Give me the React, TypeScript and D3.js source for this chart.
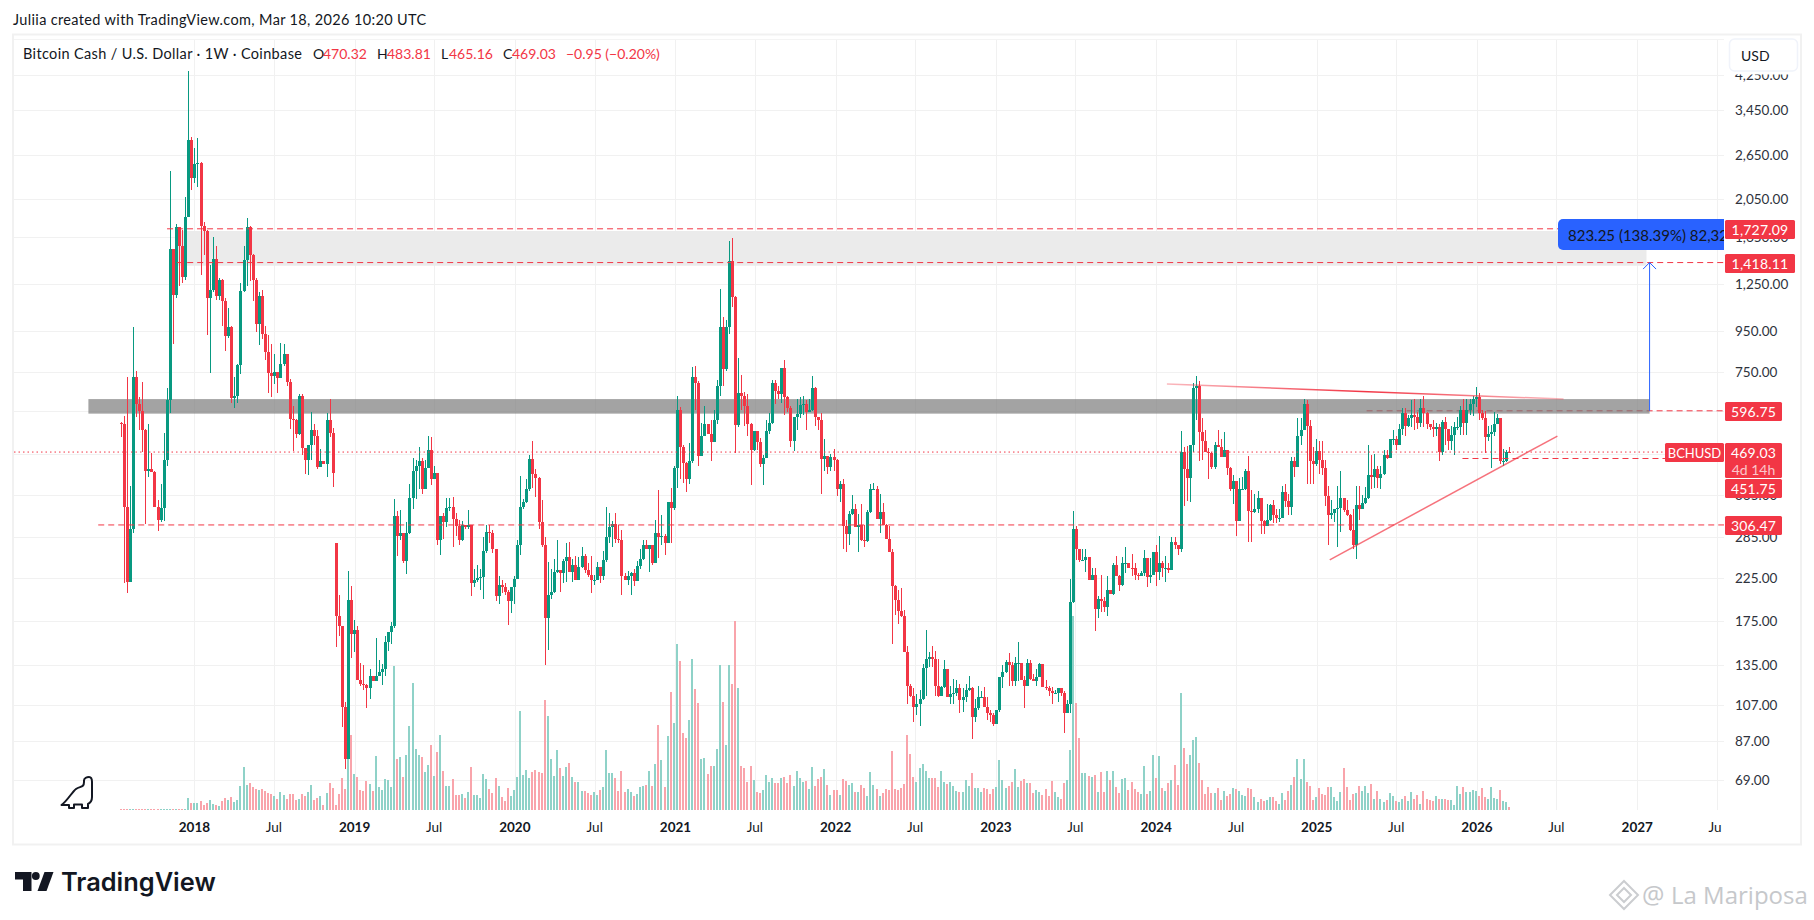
import * as d3 from 'd3'
import React from 'react'

// weekly BCHUSD. open = previous close unless listed in gapOpens
const closes = [
    554, 340, 220, 300, 728, 622, 597, 535, 419, 424,
    417, 340, 315, 338, 449, 634, 1537, 1175, 1746, 1566,
    1305, 1850, 2900, 2330, 2520, 2535, 1755, 1705, 1150, 1210,
    1450, 1170, 1280, 1135, 925, 975, 642, 652, 780, 1200,
    1440, 1746, 1478, 1280, 990, 1170, 935, 843, 745, 730,
    750, 722, 785, 832, 707, 570, 567, 522, 652, 480,
    449, 490, 532, 515, 431, 444, 437, 566, 525, 414,
    180, 170, 106, 78, 198, 162, 166, 124, 121, 120.5,
    118, 127, 123, 127, 130, 132, 155, 164, 170, 322,
    288, 292, 248, 292, 358, 419, 433, 444, 379, 428,
    476, 400, 414, 281, 322, 311, 338, 340, 318, 305,
    281, 307, 302, 307, 218, 222, 225, 226, 263, 294,
    292, 266, 202, 216, 213, 207, 196, 213, 223, 272,
    340, 350, 379, 451, 412, 403, 311, 272, 178, 203,
    207, 233, 236, 231, 248, 254, 233, 242, 222, 240,
    255, 236, 229, 222, 222, 240, 227, 250, 285, 302,
    309, 283, 280, 227, 222, 227, 231, 221, 241, 251,
    272, 267, 272, 246, 292, 285, 287, 275, 350, 338,
    427, 600, 482, 440, 400, 446, 725, 700, 459, 515,
    554, 522, 496, 564, 690, 975, 760, 975, 1430, 1160,
    550, 663, 652, 612, 554, 476, 529, 496, 437, 453,
    529, 557, 703, 670, 657, 768, 648, 607, 501, 574,
    587, 616, 620, 594, 600, 680, 574, 567, 451, 459,
    431, 457, 447, 377, 390, 304, 290, 326, 336, 302,
    307, 281, 279, 330, 377, 379, 318, 330, 307, 283,
    261, 214, 198, 185, 180, 146, 120, 113, 106, 108,
    111, 133, 140, 142, 140, 120, 113, 119, 132, 112,
    114, 115, 118, 110, 112, 117, 118, 100, 105, 112,
    112, 106, 102, 101, 96, 104, 126, 130, 138, 135,
    123, 137, 137, 124, 120, 137, 125, 123, 126, 136,
    119, 118, 116, 115, 115, 118, 115, 102, 108, 195,
    300, 267, 250, 250, 254, 222, 229, 188, 199, 196,
    190, 210, 205, 243, 228, 216, 245, 246, 239, 238,
    229, 227, 231, 253, 226, 229, 261, 233, 246, 239,
    239, 236, 278, 272, 267, 470, 424, 403, 488, 680,
    690, 526, 501, 468, 467, 431, 488, 484, 457, 476,
    427, 379, 395, 313, 379, 379, 419, 332, 330, 336,
    358, 313, 305, 316, 344, 325, 320, 320, 371, 352,
    340, 444, 431, 515, 535, 622, 547, 444, 437, 473,
    449, 427, 362, 325, 329, 336, 338, 358, 334, 325,
    298, 272, 344, 336, 348, 358, 410, 406, 424, 403,
    412, 461, 453, 505, 505, 490, 538, 590, 545, 571,
    583, 577, 555, 605, 590, 554, 542, 538, 542, 470,
    560, 538, 501, 518, 542, 542, 600, 557, 600, 622,
    640, 648, 590, 571, 512, 520, 526, 554, 571, 444,
    444, 470, 469.03,
]
const highs = [
    560, 580, 728, 384, 975, 754, 648, 707, 538, 552,
    467, 419, 354, 390, 523, 682, 2420, 1537, 1780, 1746,
    1720, 2075, 4350, 2950, 2770, 2930, 2550, 1798, 1715, 1395,
    1650, 1560, 1295, 1290, 1150, 1085, 980, 725, 785, 1260,
    1565, 1840, 1755, 1495, 1295, 1196, 1210, 980, 930, 880,
    832, 750, 888, 880, 832, 720, 615, 570, 660, 660,
    480, 490, 594, 552, 532, 478, 444, 590, 640, 540,
    276, 204, 168, 109, 234, 214, 176, 170, 137, 135,
    121, 132, 127, 158, 139, 136, 160, 164, 174, 356,
    332, 335, 292, 311, 389, 453, 449, 484, 453, 449,
    516, 512, 433, 414, 322, 329, 358, 358, 360, 329,
    316, 314, 307, 335, 307, 237, 243, 237, 286, 307,
    307, 298, 267, 228, 222, 218, 210, 213, 228, 280,
    407, 356, 400, 460, 499, 426, 405, 354, 286, 247,
    237, 251, 281, 236, 251, 276, 278, 251, 256, 254,
    270, 258, 245, 256, 229, 247, 240, 263, 340, 329,
    313, 329, 307, 298, 231, 234, 233, 237, 248, 267,
    280, 280, 273, 272, 315, 375, 325, 290, 350, 381,
    433, 652, 610, 490, 442, 494, 772, 775, 712, 556,
    612, 554, 564, 598, 714, 1215, 1030, 1015, 1610, 1640,
    1170, 810, 735, 667, 660, 556, 529, 529, 510, 460,
    564, 590, 714, 714, 690, 768, 805, 652, 612, 577,
    640, 648, 652, 636, 640, 730, 685, 577, 590, 505,
    459, 465, 478, 451, 395, 400, 316, 332, 364, 346,
    326, 346, 307, 334, 389, 392, 384, 368, 348, 309,
    304, 267, 216, 210, 212, 187, 151, 121, 118, 114,
    117, 136, 166, 146, 151, 147, 140, 120, 139, 129,
    120, 125, 124, 121, 118, 121, 127, 119, 111, 120,
    116, 119, 112, 104, 102, 104, 126, 135, 139, 145,
    138, 142, 155, 137, 127, 140, 139, 128, 132, 137,
    136, 124, 120, 119, 117, 118, 118, 116, 110, 223,
    332, 304, 267, 267, 267, 254, 239, 239, 202, 229,
    201, 227, 210, 246, 256, 229, 254, 270, 246, 258,
    246, 231, 234, 264, 253, 253, 261, 272, 288, 248,
    256, 245, 285, 285, 273, 530, 484, 486, 486, 700,
    730, 712, 571, 532, 480, 470, 496, 532, 505, 526,
    476, 431, 410, 397, 403, 405, 424, 459, 375, 367,
    373, 358, 316, 346, 346, 354, 336, 336, 385, 389,
    367, 457, 457, 571, 571, 640, 636, 564, 484, 505,
    501, 501, 447, 385, 354, 336, 385, 421, 358, 354,
    326, 336, 385, 385, 364, 383, 488, 460, 465, 433,
    433, 476, 476, 505, 535, 516, 552, 605, 605, 583,
    636, 640, 594, 640, 652, 594, 552, 567, 555, 552,
    564, 577, 538, 545, 560, 574, 612, 640, 640, 640,
    652, 685, 663, 600, 597, 545, 549, 594, 587, 571,
    478, 476, 483.81,
]
const lows = [
    511, 218, 206, 220, 292, 577, 535, 470, 309, 405,
    417, 340, 295, 311, 313, 432, 590, 882, 1150, 1240,
    1255, 1280, 1850, 2160, 2260, 2200, 1320, 1485, 930, 745,
    1196, 1140, 1140, 980, 848, 915, 625, 605, 625, 740,
    1196, 1240, 1275, 1135, 947, 875, 905, 805, 663, 648,
    698, 663, 722, 775, 690, 537, 473, 508, 518, 460,
    412, 410, 449, 490, 424, 432, 437, 406, 512, 383,
    150, 160, 94, 73.5, 78, 141, 146, 124, 120, 117,
    105, 111, 123, 123, 127, 120.5, 127, 147, 153, 168,
    255, 281, 245, 230, 290, 337, 356, 379, 368, 377,
    428, 386, 400, 272, 257, 283, 302, 332, 270, 288,
    272, 279, 300, 300, 202, 213, 220, 209, 199, 260,
    276, 260, 196, 193, 206, 203, 171, 183, 193, 261,
    257, 336, 348, 373, 381, 360, 300, 270, 135, 148,
    199, 206, 231, 207, 218, 220, 233, 220, 222, 222,
    239, 231, 226, 206, 216, 222, 218, 222, 247, 276,
    270, 276, 276, 204, 222, 216, 204, 214, 221, 237,
    250, 267, 233, 243, 246, 252, 272, 257, 275, 275,
    334, 381, 400, 392, 371, 390, 440, 600, 433, 459,
    515, 522, 444, 496, 554, 652, 690, 755, 935, 1095,
    467, 543, 600, 545, 515, 388, 473, 476, 431, 386,
    453, 522, 554, 622, 640, 625, 583, 594, 482, 473,
    535, 571, 583, 535, 594, 597, 545, 532, 367, 421,
    412, 421, 421, 362, 350, 266, 261, 272, 325, 302,
    261, 279, 270, 278, 329, 375, 318, 292, 307, 283,
    261, 153, 181, 172, 179, 146, 108, 112, 97, 101,
    95, 110, 113, 134, 134, 113, 112, 113, 118, 112,
    108, 108, 113, 102, 103, 109, 116, 88, 97, 104,
    112, 106, 98, 97, 95, 96, 103, 118, 129, 120,
    120, 120, 123, 124, 105, 120, 124, 123, 120, 126,
    119, 117, 113, 108, 115, 109, 113, 91, 102, 102,
    194, 250, 247, 249, 233, 222, 222, 165, 178, 184,
    184, 180, 205, 203, 228, 208, 214, 231, 239, 228,
    222, 222, 227, 228, 213, 218, 229, 214, 222, 226,
    220, 231, 236, 266, 257, 262, 342, 352, 350, 470,
    565, 444, 447, 468, 400, 424, 424, 484, 457, 457,
    410, 373, 346, 288, 313, 379, 375, 278, 278, 329,
    329, 290, 290, 304, 313, 310, 310, 311, 320, 340,
    325, 325, 406, 431, 490, 532, 390, 390, 390, 433,
    412, 410, 342, 272, 317, 312, 270, 294, 330, 322,
    296, 267, 251, 316, 336, 346, 356, 377, 381, 381,
    379, 410, 451, 453, 490, 476, 490, 518, 515, 542,
    542, 535, 538, 542, 542, 538, 535, 512, 515, 444,
    461, 490, 476, 476, 461, 535, 518, 518, 518, 583,
    580, 610, 567, 564, 467, 500, 427, 515, 552, 437,
    433, 442, 465.16,
]
const gapOpens: Record<number, number> = { 0: 557, 70: 276, 452: 470.32 }
const volumes = [
    1, 1, 1, 1, 1, 1, 1, 1, 1, 1, 1, 1, 1, 1, 1, 1, 1, 1, 1, 1, 1, 1,
    12, 7, 7, 7, 9, 5, 7, 10, 6, 5, 4, 9, 12, 10, 13, 8, 10, 24, 43, 25, 27, 23, 21, 20, 21, 19, 17, 16, 14, 11,
    18, 15, 11, 16, 16, 10, 11, 16, 14, 18, 25, 10, 12, 14, 5, 17, 27, 22, 5, 16, 32, 21, 55, 75,
    36, 33, 20, 19, 29, 26, 19, 54, 23, 20, 31, 30, 23, 144, 51, 53, 33, 55, 84, 127,
    61, 55, 53, 38, 45, 65, 34, 58, 75, 39, 24, 24, 31, 15, 15, 16, 12, 18, 43, 15,
    15, 12, 36, 31, 21, 17, 32, 24, 13, 9, 22, 14, 20, 33, 99, 35, 40, 32, 38, 40,
    38, 37, 110, 94, 51, 34, 60, 42, 34, 43, 47, 33, 28, 28, 19, 19, 17, 15, 18, 15, 20,
    23, 60, 37, 37, 32, 19, 39, 18, 21, 18, 14, 16, 23, 24, 25, 39, 24, 46, 85, 50,
    23, 74, 118, 87, 166, 149, 77, 72, 90, 151, 121, 107, 51, 52, 36, 44, 44, 61, 145, 108,
    65, 145, 126, 189, 122, 44, 42, 28, 44, 30, 18, 17, 20, 35, 28, 32, 27, 27, 32, 33,
    27, 35, 24, 39, 32, 28, 29, 21, 43, 24, 31, 33, 41, 25, 15, 20, 20, 15, 31, 29,
    25, 27, 18, 18, 25, 22, 14, 38, 25, 21, 14, 17, 21, 20, 59, 21, 20, 22, 26, 75,
    56, 33, 28, 42, 46, 39, 32, 32, 32, 23, 39, 28, 26, 28, 24, 19, 18, 18, 30, 24,
    37, 22, 22, 18, 22, 21, 16, 21, 23, 50, 30, 22, 24, 28, 41, 23, 29, 31, 27, 27,
    17, 20, 18, 15, 21, 14, 29, 18, 13, 11, 27,
    30, 60, 194, 107, 72,
    37, 37, 34, 33, 35, 18, 38, 18, 39, 30,
    39, 23, 17, 31, 32, 20, 28, 21, 18, 16,
    44, 16, 19, 55, 32, 54, 22, 19, 27, 30,
    45, 25, 117, 62, 46, 55, 70, 73, 47, 30,
    16, 23, 17, 17, 22, 10, 19, 14, 16, 22,
    21, 19, 15, 14, 22, 21, 13, 8, 11, 9,
    10, 13, 13, 9, 6, 17, 10, 19, 25, 33,
    51, 31, 51, 28, 24, 10, 13, 22, 16, 15,
    23, 23, 13, 9, 18, 42, 23, 10, 16, 17,
    24, 19, 24, 17, 26, 11, 19, 11, 8, 10,
    17, 14, 9, 8, 11, 14, 9, 18, 11, 15,
    6, 19, 11, 10, 9, 14, 11, 11, 11, 10,
    10, 5, 24, 16, 23, 18, 18, 20, 19, 14,
    22, 13, 11, 23, 12, 11, 20, 9, 8, 3,
]

const priceTicks = [4250, 3450, 2650, 2050, 1650, 1250, 950, 750, 595, 465, 365, 285, 225, 175, 135, 107, 87, 69]
const yearTicks = [2018, 2019, 2020, 2021, 2022, 2023, 2024, 2025, 2026, 2027]

const UP = '#089981'
const DOWN = '#F23645'
const TEXT = '#131722'
const FONT = 'Lato, "Noto Sans", sans-serif'
const PANE_LEFT = 14
const PANE_RIGHT = 1724
const PANE_BOTTOM = 810

const lastBar = Date.UTC(2026, 2, 16)
const WEEK = 7 * 24 * 3600 * 1000
const barDate = (i: number) => new Date(lastBar - (closes.length - 1 - i) * WEEK)

const x = d3.scaleUtc().domain([new Date(Date.UTC(2018, 0, 1)), new Date(Date.UTC(2026, 0, 1))]).range([194.4, 1477])
const y = d3.scaleLog().domain([3450, 69]).range([110.3, 780.3])
const vol = d3.scaleLinear().domain([0, 200]).range([PANE_BOTTOM, 610])
const xb = (i: number) => x(barDate(i))

const bars = closes.map((close, i) => {
    const open = gapOpens[i] ?? closes[i - 1]
    return { i, open, close, high: highs[i], low: lows[i], volume: volumes[i] ?? 0, up: close >= open }
})

const fmt = d3.format(',.2f')

const PriceTag = (p: { top: number; h?: number; w?: number; label: string; sub?: string }) => (
    <g>
        <rect x={1725} y={p.top} width={p.w ?? 57} height={p.h ?? 19} rx={1.5} fill={DOWN} />
        <text x={1725 + (p.w ?? 57) / 2} y={p.top + 9.5} textAnchor="middle" dominantBaseline="central" fill="#fff" fontSize={14} letterSpacing={0.2}>
            {p.label}
        </text>
        {p.sub && (
            <text x={1725 + (p.w ?? 57) / 2} y={p.top + 26} textAnchor="middle" dominantBaseline="central" fill="#fbc5ca" fontSize={14}>
                {p.sub}
            </text>
        )}
    </g>
)

const App = () => {
    const yearDates = yearTicks.map((yr) => new Date(Date.UTC(yr, 0, 1)))
    const julDates = yearTicks.map((yr) => new Date(Date.UTC(yr, 6, 1)))
    const gridX = [...yearDates, ...julDates]

    return (
        <svg width={1814} height={920} style={{ position: 'absolute', left: 0, top: 0, background: '#fff' }} fontFamily={FONT}>
            <defs>
                <clipPath id="pane">
                    <rect x={PANE_LEFT} y={36} width={PANE_RIGHT - PANE_LEFT} height={800} />
                </clipPath>
                <clipPath id="timeAxis">
                    <rect x={PANE_LEFT} y={812} width={1708} height={30} />
                </clipPath>
                <linearGradient id="fade" x1="0" x2="1" y1="0" y2="0">
                    <stop offset="0" stopColor={DOWN} stopOpacity={0.35} />
                    <stop offset="0.5" stopColor={DOWN} stopOpacity={1} />
                    <stop offset="1" stopColor={DOWN} stopOpacity={0.35} />
                </linearGradient>
            </defs>

            <text x={13} y={24.5} fontSize={14.5} letterSpacing={0.35} fill={TEXT}>
                Juliia created with TradingView.com, Mar 18, 2026 10:20 UTC
            </text>
            <rect x={13} y={34.5} width={1788} height={810} fill="none" stroke="#F1F1F1" strokeWidth={2} />
            <line x1={PANE_LEFT} x2={PANE_RIGHT} y1={39.5} y2={39.5} stroke="#F4F4F4" />

            {/* grid */}
            <g shapeRendering="crispEdges" stroke="#F1F1F1" clipPath="url(#pane)">
                {priceTicks.map((p) => (
                    <line key={p} x1={PANE_LEFT} x2={PANE_RIGHT} y1={Math.round(y(p)) + 0.5} y2={Math.round(y(p)) + 0.5} />
                ))}
                {gridX.map((d) => (
                    <line key={+d} x1={Math.round(x(d)) + 0.5} x2={Math.round(x(d)) + 0.5} y1={40} y2={PANE_BOTTOM} />
                ))}
            </g>

            {/* zones */}
            <rect x={xb(17.7)} width={xb(496.6) - xb(17.7)} y={y(1705)} height={y(1392) - y(1705)} fill="#EBEBEB" />
            <line x1={xb(405.5)} x2={PANE_RIGHT} y1={y(596.75)} y2={y(596.75)} stroke={DOWN} strokeDasharray="6 4" />
            <rect x={xb(-10.5)} width={xb(497.6) - xb(-10.5)} y={y(639)} height={y(587) - y(639)} fill="#787878" opacity={0.68} />

            {/* volume */}
            <g shapeRendering="crispEdges">
                {bars.map((b) => (
                    <rect
                        key={b.i}
                        x={Math.round(xb(b.i)) - 1}
                        width={2}
                        y={vol(b.volume)}
                        height={PANE_BOTTOM - vol(b.volume)}
                        fill={b.up ? '#8FD2C8' : '#F9A4AB'}
                    />
                ))}
            </g>

            {/* candles */}
            <g shapeRendering="crispEdges">
                {bars.map((b) => {
                    const cx = Math.round(xb(b.i))
                    const top = y(Math.max(b.open, b.close))
                    const bottom = y(Math.min(b.open, b.close))
                    const color = b.up ? UP : DOWN
                    return (
                        <g key={b.i} fill={color}>
                            <rect x={cx} width={1} y={y(b.high)} height={Math.max(1, y(b.low) - y(b.high))} />
                            <rect x={cx - 1} width={3} y={top} height={Math.max(1, bottom - top)} />
                        </g>
                    )
                })}
            </g>

            {/* levels */}
            <g stroke={DOWN} fill="none">
                <line x1={xb(15.1)} x2={PANE_RIGHT} y1={y(1727.09)} y2={y(1727.09)} strokeDasharray="6 4" />
                <line x1={xb(18.4)} x2={PANE_RIGHT} y1={y(1418.11)} y2={y(1418.11)} strokeDasharray="6 4" />
                <line x1={xb(436.7)} x2={PANE_RIGHT} y1={y(451.75)} y2={y(451.75)} strokeDasharray="6 4" />
                <line x1={xb(-7.3)} x2={PANE_RIGHT} y1={y(306.47)} y2={y(306.47)} strokeDasharray="6 4" />
                <line x1={PANE_LEFT} x2={PANE_RIGHT} y1={y(469.03)} y2={y(469.03)} strokeDasharray="1.5 3" />
            </g>

            {/* trend lines */}
            <line x1={xb(340.5)} y1={y(698)} x2={xb(469.6)} y2={y(639)} stroke="url(#fade)" strokeWidth={1.5} />
            <line x1={xb(393.5)} y1={y(250)} x2={xb(467.6)} y2={y(515)} stroke={DOWN} strokeOpacity={0.7} strokeWidth={1.5} />

            {/* projection */}
            <g stroke="#2962FF" fill="none">
                <line x1={xb(497.6)} x2={xb(497.6)} y1={y(596.75)} y2={y(1418.11)} />
                <path d={`M${xb(497.6) - 6.5} ${y(1418.11) + 6.5}L${xb(497.6)} ${y(1418.11)}L${xb(497.6) + 6.5} ${y(1418.11) + 6.5}`} />
            </g>
            <g clipPath="url(#pane)">
                <path d="M1563 219H1730V250H1563a5 5 0 0 1 -5 -5V224a5 5 0 0 1 5 -5Z" fill="#2962FF" />
                <text x={1568} y={234.5} dominantBaseline="central" fontSize={15} fill={TEXT}>
                    823.25 (138.39%) 82,325
                </text>
            </g>

            {/* legend */}
            <g fontSize={14} fill={TEXT}>
                <text x={23} y={59} fontSize={14.5} letterSpacing={0.35}>Bitcoin Cash / U.S. Dollar · 1W · Coinbase</text>
                <text x={313} y={59}>O</text>
                <text x={323} y={59} fill={DOWN}>470.32</text>
                <text x={377} y={59}>H</text>
                <text x={387} y={59} fill={DOWN}>483.81</text>
                <text x={441} y={59}>L</text>
                <text x={449} y={59} fill={DOWN}>465.16</text>
                <text x={503} y={59}>C</text>
                <text x={512} y={59} fill={DOWN}>469.03</text>
                <text x={566} y={59} fill={DOWN}>−0.95 (−0.20%)</text>
            </g>

            {/* price axis */}
            <g fontSize={13.5} fill="#2E323C">
                {priceTicks.map((p) => (
                    <text key={p} x={1735} y={y(p)} dominantBaseline="central">
                        {fmt(p)}
                    </text>
                ))}
            </g>
            <rect x={1726} y={36} width={74} height={38.5} fill="#fff" />
            <rect x={1729.5} y={39} width={68} height={32} rx={5} fill="#fff" stroke="#F0F3FA" strokeWidth={1.5} />
            <text x={1741} y={55} dominantBaseline="central" fontSize={14} fill={TEXT}>USD</text>

            <PriceTag top={220} w={70} label="1,727.09" />
            <PriceTag top={254} w={70} label="1,418.11" />
            <PriceTag top={402} label="596.75" />
            <PriceTag top={443} h={35} label="469.03" sub="4d 14h" />
            <PriceTag top={479} label="451.75" />
            <PriceTag top={516} label="306.47" />
            <rect x={1665} y={443} width={59} height={19} rx={1.5} fill={DOWN} />
            <text x={1694.5} y={452.5} textAnchor="middle" dominantBaseline="central" fontSize={13} fill="#fff">BCHUSD</text>

            {/* time axis */}
            <g clipPath="url(#timeAxis)" fontSize={13.5} fill={TEXT} textAnchor="middle">
                {yearDates.map((d) => (
                    <text key={+d} x={x(d)} y={827} dominantBaseline="central" fontWeight={700}>
                        {d.getUTCFullYear()}
                    </text>
                ))}
                {julDates.map((d) => (
                    <text key={+d} x={x(d)} y={827} dominantBaseline="central">
                        Jul
                    </text>
                ))}
            </g>

            {/* dino */}
            <path
                d="M61.5 805C68 800 72 792 76 789C80 786 84 788 84 782V780.5C84 778 87 777 89 777C91.5 777 92 779 92 782V797C92 801 90 803 88 804V808H82V804.5H74V808H69V805Z"
                fill="none"
                stroke={TEXT}
                strokeWidth={2}
                strokeLinejoin="round"
            />

            {/* logo */}
            <g fill={TEXT}>
                <path d="M15 872H31.5V891H23V879.5H15Z" />
                <circle cx={35.8} cy={876} r={3.9} />
                <path d="M44.5 872H53.5L46.5 891H37.5Z" />
                <text x={61} y={891} fontFamily="Inter, sans-serif" fontWeight={600} fontSize={25.4}>TradingView</text>
            </g>

            {/* watermark */}
            <g fill="none" stroke="#CBCDD0" strokeWidth={2}>
                <path d="M1624 881L1638 895L1624 909L1610 895Z" />
                <path d="M1624 888L1631 895L1624 902L1617 895Z" />
            </g>
            <text x={1642} y={904} fontFamily='"Open Sans", sans-serif' fontSize={25} fill="#C6C8CB">@</text>
            <text x={1671} y={904} fontFamily='"Open Sans", sans-serif' fontSize={24} fill="#C6C8CB">La Mariposa</text>
        </svg>
    )
}

export default App
